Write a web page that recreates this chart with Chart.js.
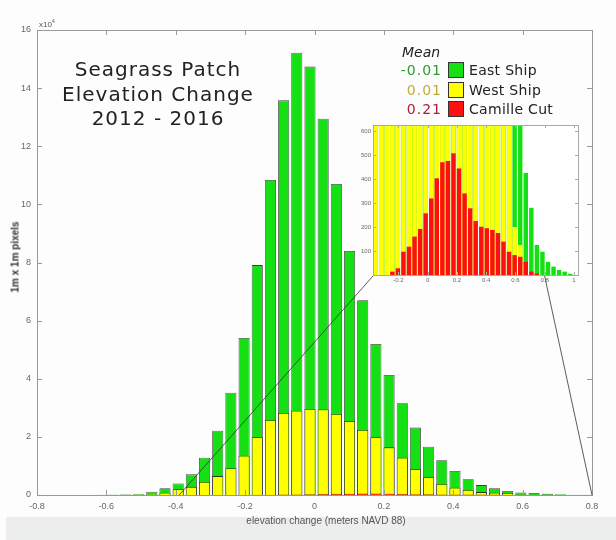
<!DOCTYPE html>
<html>
<head>
<meta charset="utf-8">
<script src="https://cdn.jsdelivr.net/npm/chart.js@4.4.1/dist/chart.umd.min.js"></script>
<style>
  html, body { margin: 0; padding: 0; background: #fdfdfd; }
  #wrap { position: relative; width: 616px; height: 540px; overflow: hidden; background: #fdfdfd; }
  #mainChart { position: absolute; left: 0; top: 0; }
  #insetChart { position: absolute; left: 352px; top: 112px; }
  .band { position: absolute; left: 6px; top: 517px; width: 610px; height: 23px; background: #eceeee; }
  .title { position: absolute; left: 38px; top: 57px; width: 240px; text-align: center;
           font-family: "DejaVu Sans", sans-serif; font-size: 20px; letter-spacing: 1px;
           line-height: 24.5px; color: #222; }
  .mult { position: absolute; left: 39px; top: 18px; font-family: "Liberation Sans", sans-serif;
          font-size: 8px; color: #555; }
  .mult sup { font-size: 5px; }
  .ytitle { position: absolute; left: 15px; top: 257px; transform: translate(-50%, -50%) rotate(-90deg);
            font-family: "Liberation Sans", sans-serif; font-size: 10px; font-weight: bold; color: #333; white-space: nowrap; }
  .xtitle { position: absolute; left: 326px; top: 520px; transform: translate(-50%, -50%);
            font-family: "Liberation Sans", sans-serif; font-size: 10px; color: #555; white-space: nowrap; }
  .legend { position: absolute; left: 380px; top: 40px; font-family: "DejaVu Sans", sans-serif; font-size: 14px; }
  .legend .mean { position: absolute; left: 22px; top: 4px; font-style: italic; color: #222; }
  .legend .row { position: absolute; left: 0; height: 16px; }
  .legend .num { position: absolute; left: 0; width: 62px; text-align: right; letter-spacing: 1px; line-height: 16px; }
  .legend .box { position: absolute; left: 68px; top: 0; width: 14px; height: 14px; border: 1px solid #333; }
  .legend .lab { position: absolute; left: 89px; top: 0; line-height: 16px; color: #222; white-space: nowrap; letter-spacing: 0.3px; }
</style>
</head>
<body>
<div id="wrap">
  <div class="band"></div>
  <canvas id="mainChart" width="616" height="540"></canvas>
  <canvas id="insetChart" width="240" height="175"></canvas>
  <div class="title">Seagrass Patch<br>Elevation Change<br>2012 - 2016</div>
  <div class="mult">x10<sup>4</sup></div>
  <div class="ytitle">1m x 1m pixels</div>
  <div class="xtitle">elevation change (meters NAVD 88)</div>
  <div class="legend" id="legend"><div class="mean">Mean</div></div>
</div>
<script>
/* ================= DATA ================= */
// histogram bin centres (m)
const binCenters = [
  -0.621, -0.583, -0.545, -0.507, -0.469, -0.431, -0.393, -0.355, -0.317, -0.279,
  -0.241, -0.203, -0.165, -0.127, -0.089, -0.051, -0.013, 0.025, 0.063, 0.101,
  0.139, 0.177, 0.215, 0.253, 0.291, 0.329, 0.367, 0.405, 0.443, 0.481,
  0.519, 0.557, 0.595, 0.633, 0.671, 0.709, 0.747, 0.785, 0.823, 0.861,
  0.899, 0.937, 0.975
];

// pixel counts per bin
const eastShip = [
  100, 100, 150, 300, 1100, 2300, 4000, 7100, 12800, 22100,
  35200, 54000, 79100, 108400, 135800, 152200, 147400, 129500, 107000, 84000,
  67000, 52000, 41300, 31600, 23200, 16600, 12000, 8300, 5400, 3400,
  2300, 1400, 900, 700, 425, 280, 125, 97, 55, 35,
  21, 14, 5
];
const westShip = [
  30, 50, 80, 150, 300, 800, 2000, 2800, 4500, 6500,
  9200, 13500, 19900, 25800, 28200, 29000, 29600, 29400, 27900, 25400,
  22400, 19900, 16400, 12800, 8900, 6100, 3800, 2500, 1700, 1000,
  750, 680, 200, 125, 40, 10, 5, 0, 0, 0,
  0, 0, 0
];
const camilleCut = [
  0, 0, 0, 0, 0, 0, 0, 0, 0, 0,
  14, 28, 97, 118, 160, 192, 257, 319, 403, 470,
  475, 507, 444, 340, 278, 225, 201, 195, 188, 175,
  139, 97, 83, 76, 55, 14, 7, 0, 0, 0,
  0, 0, 0
];

const seriesNames = ["East Ship", "West Ship", "Camille Cut"];
const seriesMeans = ["-0.01", "0.01", "0.21"];
const seriesColors = ["#14e014", "#ffff00", "#ff1010"];
const meanColors = ["#2f9a2f", "#c2ae35", "#b01e3a"];

const xTicksMain = [-0.8, -0.6, -0.4, -0.2, 0, 0.2, 0.4, 0.6, 0.8];
const zoomRange = [-0.39, 0.8];   // main-axis span shown in the inset

/* ================= LEGEND ================= */
const legendEl = document.getElementById("legend");
seriesNames.forEach((name, i) => {
  const row = document.createElement("div");
  row.className = "row";
  row.style.top = (22 + i * 19.5) + "px";
  row.innerHTML =
    `<span class="num" style="color:${meanColors[i]}">${seriesMeans[i]}</span>` +
    `<span class="box" style="background:${seriesColors[i]}"></span>` +
    `<span class="lab">${name}</span>`;
  legendEl.appendChild(row);
});

/* ================= HELPERS ================= */
function toPoints(values, scale) {
  return binCenters.map((x, i) => ({ x: x, y: values[i] ? values[i] / scale : null }));
}

const fmt = v => String(Math.round(v * 10) / 10);

// box round the plot with inward ticks on all four sides
const framePlugin = {
  id: "frame",
  beforeDatasetsDraw(chart, args, opts) {
    const a = chart.chartArea;
    const ctx = chart.ctx;
    if (opts.fill) {
      ctx.save();
      ctx.fillStyle = opts.fill;
      ctx.fillRect(a.left, a.top, a.right - a.left, a.bottom - a.top);
      ctx.restore();
    }
  },
  afterDatasetsDraw(chart, args, opts) {
    const a = chart.chartArea;
    const ctx = chart.ctx;
    const len = opts.tickLen || 4;
    ctx.save();
    ctx.strokeStyle = opts.color || "#999";
    ctx.lineWidth = 1;
    ctx.strokeRect(Math.round(a.left) + 0.5, Math.round(a.top) + 0.5,
                   Math.round(a.right - a.left), Math.round(a.bottom - a.top));
    ctx.beginPath();
    chart.scales.x.ticks.forEach(t => {
      const px = Math.round(chart.scales.x.getPixelForValue(t.value)) + 0.5;
      ctx.moveTo(px, a.bottom); ctx.lineTo(px, a.bottom - len);
      ctx.moveTo(px, a.top); ctx.lineTo(px, a.top + len);
    });
    chart.scales.y.ticks.forEach(t => {
      const py = Math.round(chart.scales.y.getPixelForValue(t.value)) + 0.5;
      ctx.moveTo(a.left, py); ctx.lineTo(a.left + len, py);
      ctx.moveTo(a.right, py); ctx.lineTo(a.right - len, py);
    });
    ctx.stroke();
    ctx.restore();
  }
};

/* ================= INSET CHART ================= */
const insetCanvas = document.getElementById("insetChart");
const insetChart = new Chart(insetCanvas, {
  type: "bar",
  data: {
    datasets: [
      { label: seriesNames[2], data: toPoints(camilleCut, 1), backgroundColor: seriesColors[2] },
      { label: seriesNames[1], data: toPoints(westShip, 1), backgroundColor: seriesColors[1] },
      { label: seriesNames[0], data: toPoints(eastShip, 1), backgroundColor: seriesColors[0] }
    ]
  },
  options: {
    responsive: false,
    animation: false,
    layout: { padding: { left: 0, top: 13, right: 14, bottom: 0 } },
    datasets: { bar: { grouped: false, categoryPercentage: 1, barPercentage: 0.8, borderWidth: 0 } },
    scales: {
      x: {
        type: "linear", min: -0.373, max: 1.028, offset: false,
        grid: { display: false, drawTicks: false }, border: { display: false },
        ticks: { stepSize: 0.2, includeBounds: false, padding: 2, color: "#666",
                 font: { family: "Liberation Sans", size: 6 }, callback: fmt, maxRotation: 0 },
        afterFit: s => { s.height = 12; }
      },
      y: {
        min: 0, max: 625,
        grid: { display: false, drawTicks: false }, border: { display: false },
        ticks: { stepSize: 100, includeBounds: false, padding: 2, color: "#666",
                 font: { family: "Liberation Sans", size: 6 },
                 callback: v => (v === 0 ? "" : v) },
        afterFit: s => { s.width = 21; }
      }
    },
    plugins: {
      legend: { display: false },
      tooltip: { enabled: false },
      frame: { fill: "#ffffff", color: "#aaa", tickLen: 3 }
    }
  },
  plugins: [framePlugin]
});

/* ================= CONNECTOR LINES ================= */
const connectorPlugin = {
  id: "connector",
  afterDatasetsDraw(chart) {
    const xs = chart.scales.x, ys = chart.scales.y;
    const ix = insetChart.scales.x, iy = insetChart.scales.y;
    const ox = insetCanvas.offsetLeft, oy = insetCanvas.offsetTop;
    const ends = [
      [zoomRange[0], ix.min],
      [zoomRange[1], zoomRange[1]]
    ];
    const ctx = chart.ctx;
    ctx.save();
    ctx.strokeStyle = "#333";
    ctx.lineWidth = 0.8;
    ctx.beginPath();
    ends.forEach(([mainX, insetX]) => {
      ctx.moveTo(xs.getPixelForValue(mainX), ys.getPixelForValue(0));
      ctx.lineTo(ox + ix.getPixelForValue(insetX), oy + iy.getPixelForValue(0) + 1);
    });
    ctx.stroke();
    ctx.restore();
  }
};

/* ================= MAIN CHART ================= */
new Chart(document.getElementById("mainChart"), {
  type: "bar",
  data: {
    datasets: [
      { label: seriesNames[2], data: toPoints(camilleCut, 1e4), backgroundColor: seriesColors[2] },
      { label: seriesNames[1], data: toPoints(westShip, 1e4), backgroundColor: seriesColors[1] },
      { label: seriesNames[0], data: toPoints(eastShip, 1e4), backgroundColor: seriesColors[0] }
    ]
  },
  options: {
    responsive: false,
    animation: false,
    layout: { padding: { left: 0, top: 30, right: 24, bottom: 0 } },
    datasets: {
      bar: { grouped: false, categoryPercentage: 1, barPercentage: 0.84,
             borderWidth: 0.8, borderColor: "rgba(30,30,30,0.85)" }
    },
    scales: {
      x: {
        type: "linear", min: -0.8, max: 0.8, offset: false,
        grid: { display: false, drawTicks: false }, border: { display: false },
        afterBuildTicks: s => { s.ticks = xTicksMain.map(v => ({ value: v })); },
        ticks: { padding: 6, color: "#666", font: { family: "Liberation Sans", size: 9 },
                 callback: fmt, maxRotation: 0 },
        afterFit: s => { s.height = 45; }
      },
      y: {
        min: 0, max: 16,
        grid: { display: false, drawTicks: false }, border: { display: false },
        ticks: { stepSize: 2, padding: 6, color: "#666", font: { family: "Liberation Sans", size: 9 } },
        afterFit: s => { s.width = 37; }
      }
    },
    plugins: {
      legend: { display: false },
      tooltip: { enabled: false },
      frame: { color: "#999", tickLen: 5 }
    }
  },
  plugins: [framePlugin, connectorPlugin]
});
</script>
</body>
</html>
